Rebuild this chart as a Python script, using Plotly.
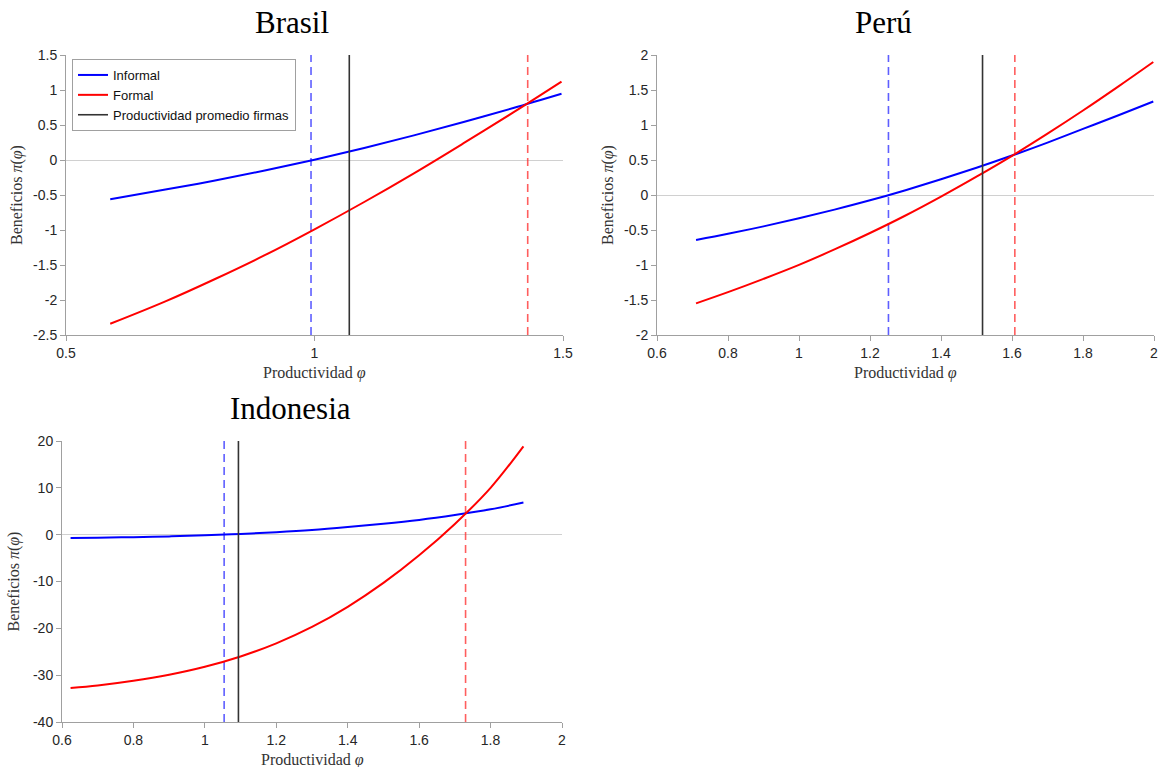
import plotly.graph_objects as go

# ---------------- data ----------------
# Brasil
br_phi = [0.589, 0.7, 0.8, 0.9, 1.0, 1.1, 1.2, 1.3, 1.4, 1.497]
br_pi_inf = [-0.56, -0.423, -0.293, -0.151, 0.004, 0.172, 0.352, 0.542, 0.742, 0.946]
br_pi_for = [-2.34, -2.02, -1.70, -1.36, -0.99, -0.60, -0.19, 0.24, 0.68, 1.12]
br_thr_inf, br_mean, br_thr_for = 0.993, 1.070, 1.429

# Perú
pe_phi = [0.71, 0.8, 0.9, 1.0, 1.1, 1.2, 1.3, 1.4, 1.5, 1.6, 1.7, 1.8, 1.9, 1.998]
pe_pi_inf = [-0.643, -0.555, -0.448, -0.333, -0.209, -0.076, 0.069, 0.224, 0.389, 0.564, 0.749, 0.944, 1.14, 1.335]
pe_pi_for = [-1.548, -1.388, -1.198, -0.998, -0.778, -0.543, -0.293, -0.023, 0.262, 0.56, 0.877, 1.207, 1.552, 1.90]
pe_thr_inf, pe_mean, pe_thr_for = 1.252, 1.517, 1.608

# Indonesia
id_phi = [0.624, 0.7, 0.8, 0.9, 1.0, 1.1, 1.2, 1.3, 1.4, 1.5, 1.6, 1.7, 1.8, 1.892]
id_pi_inf = [-0.71, -0.65, -0.53, -0.37, -0.15, 0.15, 0.53, 1.0, 1.62, 2.32, 3.15, 4.2, 5.42, 6.85]
id_pi_for = [-32.74, -32.2, -31.2, -29.9, -28.2, -26.0, -23.2, -19.7, -15.4, -10.3, -4.4, 2.3, 10.0, 18.87]
id_thr_inf, id_mean, id_thr_for = 1.054, 1.094, 1.730

titles = ["Brasil", "Perú", "Indonesia"]
x_ranges = [[0.5, 1.5], [0.6, 2.0], [0.6, 2.0]]
y_ranges = [[-2.5, 1.5], [-2.0, 2.0], [-40, 20]]
x_ticks = [[0.5, 1, 1.5], [0.6, 0.8, 1, 1.2, 1.4, 1.6, 1.8, 2], [0.6, 0.8, 1, 1.2, 1.4, 1.6, 1.8, 2]]
y_ticks = [[-2.5, -2, -1.5, -1, -0.5, 0, 0.5, 1, 1.5],
           [-2, -1.5, -1, -0.5, 0, 0.5, 1, 1.5, 2],
           [-40, -30, -20, -10, 0, 10, 20]]

W, H = 1162, 767
# plot areas in pixels: (left, right, top, bottom)
boxes = [(66, 563, 55, 335), (657, 1154, 55, 335), (62, 562, 441, 722)]

panels = [
    (br_phi, br_pi_inf, br_pi_for, br_thr_inf, br_mean, br_thr_for),
    (pe_phi, pe_pi_inf, pe_pi_for, pe_thr_inf, pe_mean, pe_thr_for),
    (id_phi, id_pi_inf, id_pi_for, id_thr_inf, id_mean, id_thr_for),
]

fig = go.Figure()
serif = "Liberation Serif, Times New Roman, serif"
sans = "Liberation Sans, Arial, sans-serif"
annotations = []

for i, (phi, vinf, vfor, tinf, mean, tfor) in enumerate(panels):
    k = "" if i == 0 else str(i + 1)
    xa, ya = "x" + k, "y" + k
    y0, y1 = y_ranges[i]
    first = i == 0
    fig.add_trace(go.Scatter(x=[tinf, tinf], y=[y0, y1], mode="lines", xaxis=xa, yaxis=ya,
                             line=dict(color="rgba(40,40,255,0.75)", width=1.6, dash="8px,5px"),
                             showlegend=False, hoverinfo="skip"))
    fig.add_trace(go.Scatter(x=[tfor, tfor], y=[y0, y1], mode="lines", xaxis=xa, yaxis=ya,
                             line=dict(color="rgba(255,40,40,0.75)", width=1.6, dash="8px,5px"),
                             showlegend=False, hoverinfo="skip"))
    fig.add_trace(go.Scatter(x=phi, y=vinf, mode="lines", xaxis=xa, yaxis=ya,
                             line=dict(color="#0000ff", width=2, shape="spline", smoothing=1),
                             name="Informal", showlegend=first, legendrank=1))
    fig.add_trace(go.Scatter(x=phi, y=vfor, mode="lines", xaxis=xa, yaxis=ya,
                             line=dict(color="#ff0000", width=2, shape="spline", smoothing=1),
                             name="Formal", showlegend=first, legendrank=2))
    fig.add_trace(go.Scatter(x=[mean, mean], y=[y0, y1], mode="lines", xaxis=xa, yaxis=ya,
                             line=dict(color="#333333", width=1.6),
                             name="Productividad promedio firmas", showlegend=first, legendrank=3))

    l, r, t, b = boxes[i]
    xdom = [l / W, r / W]
    ydom = [1 - b / H, 1 - t / H]
    axcommon = dict(showline=True, linecolor="#a0a0a0", linewidth=1, mirror=False,
                    ticks="outside", ticklen=5, tickcolor="#a0a0a0", showgrid=False,
                    tickfont=dict(family=sans, size=14, color="#262626"), automargin=False)
    fig.update_layout(**{
        "xaxis" + k: dict(domain=xdom, range=x_ranges[i], tickvals=x_ticks[i],
                          ticktext=[f"{v:g}" for v in x_ticks[i]], zeroline=False,
                          anchor=ya, **axcommon),
        "yaxis" + k: dict(domain=ydom, range=y_ranges[i], tickvals=y_ticks[i],
                          ticktext=[f"{v:g}" for v in y_ticks[i]], zeroline=True,
                          zerolinecolor="#d0d0d0", zerolinewidth=1.2,
                          anchor=xa, **axcommon),
    })
    cx = (l + r) / 2 / W
    annotations.append(dict(text=titles[i], x=((l + r) / 2 - 22) / W, y=1 - (t - 33) / H,
                            xref="paper", yref="paper",
                            showarrow=False, font=dict(family=serif, size=31, color="black"),
                            xanchor="center", yanchor="middle"))
    annotations.append(dict(text="Productividad <i>φ</i>", x=cx, y=1 - (b + 38) / H, xref="paper",
                            yref="paper", showarrow=False,
                            font=dict(family=serif, size=16, color="#333333"),
                            xanchor="center", yanchor="middle"))
    annotations.append(dict(text="Beneficios <i>π</i>(<i>φ</i>)", x=(l - 49) / W, y=1 - (t + b) / 2 / H,
                            xref="paper", yref="paper", showarrow=False, textangle=-90,
                            font=dict(family=serif, size=16, color="#333333"),
                            xanchor="center", yanchor="middle"))

fig.update_layout(
    width=W, height=H,
    margin=dict(l=0, r=0, t=0, b=0),
    paper_bgcolor="white", plot_bgcolor="white",
    annotations=annotations,
    legend=dict(x=72 / W, y=1 - 59 / H, xanchor="left", yanchor="top",
                bgcolor="white", bordercolor="#a0a0a0", borderwidth=1,
                font=dict(family=sans, size=13, color="#111111"),
                tracegroupgap=0, itemwidth=30, traceorder="normal"),
    showlegend=True,
)

fig.write_html("out.html")
